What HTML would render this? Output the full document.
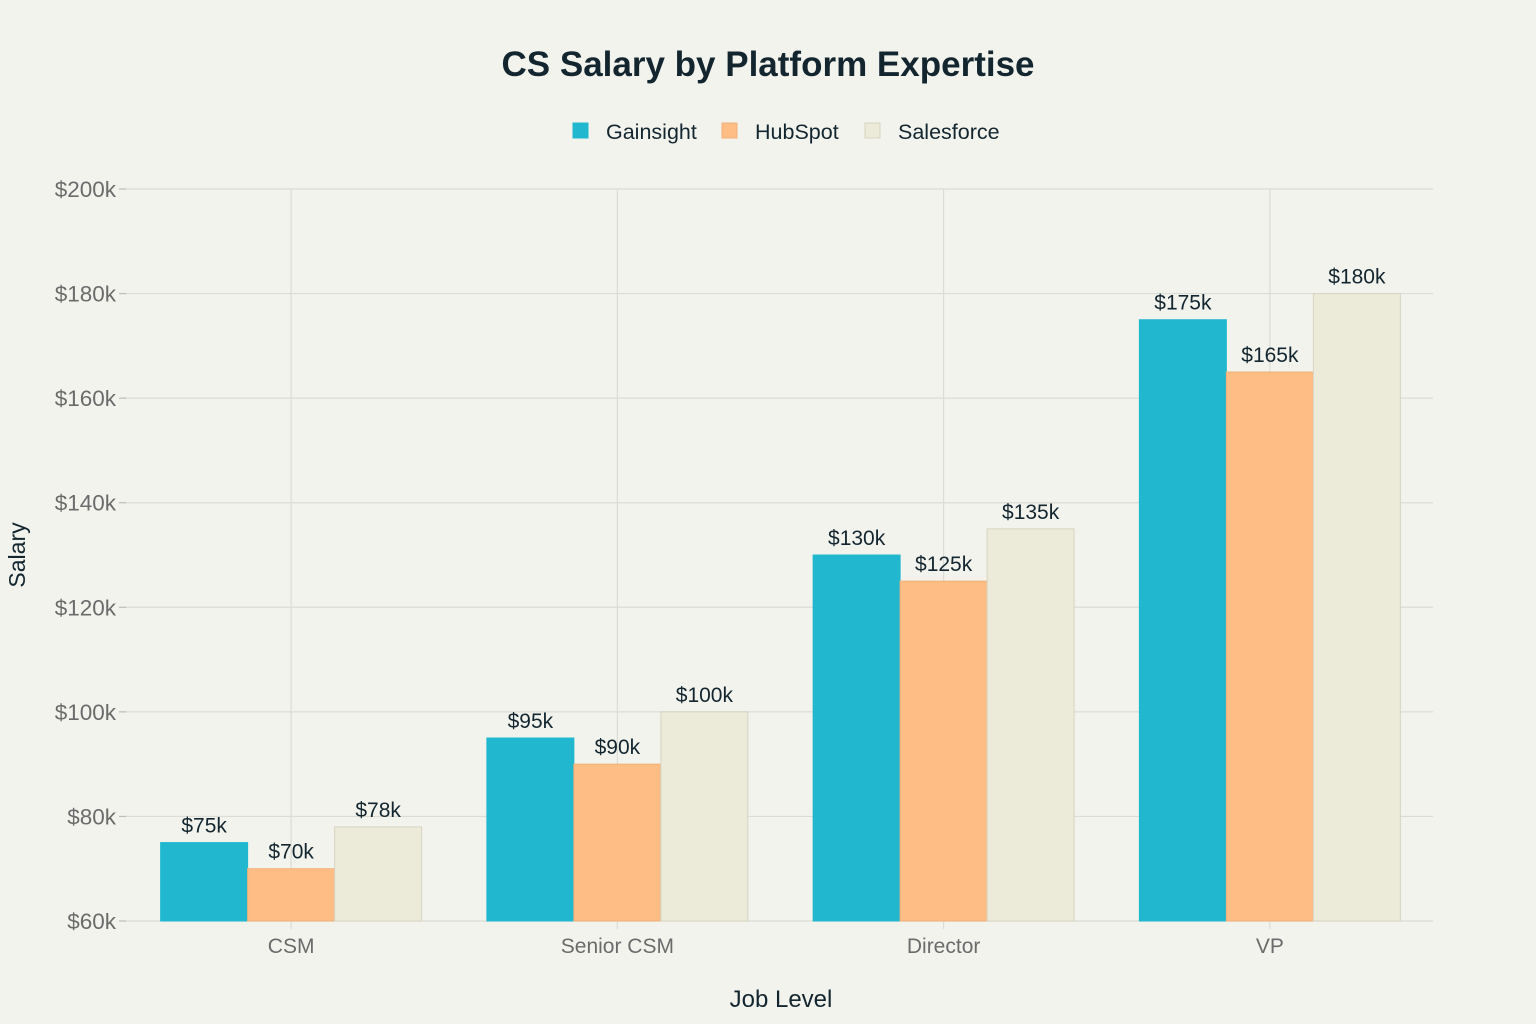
<!DOCTYPE html>
<html><head><meta charset="utf-8"><style>
html,body{margin:0;padding:0;background:#f3f3ee;}
svg{display:block;font-family:"Liberation Sans",sans-serif;}
</style></head><body>
<svg id="chart" width="1536" height="1024" viewBox="0 0 1536 1024">
<rect width="1536" height="1024" fill="#f3f3ee"/>
<text x="768" y="76" text-anchor="middle" font-size="35" font-weight="bold" fill="#13262f">CS Salary by Platform Expertise</text>
<g id="legend"></g>
<g id="grid"></g>
<g id="bars"></g>
<g id="axes"></g>
<text x="781" y="1007" text-anchor="middle" font-size="24" fill="#13262f">Job Level</text>
<text transform="translate(25,555) rotate(-90)" text-anchor="middle" font-size="23" fill="#13262f">Salary</text>
</svg>
<script>
const categories = ["CSM","Senior CSM","Director","VP"];
const seriesNames = ["Gainsight","HubSpot","Salesforce"];
const gainsight = [75,95,130,175];
const hubspot = [70,90,125,165];
const salesforce = [78,100,135,180];
const yTicks = [60,80,100,120,140,160,180,200];
const colors = ["#21b8cf","#fdbd84","#ecead8"];
const strokes = ["#21b8cf","#f3b078","#d6d4c0"];

const NS="http://www.w3.org/2000/svg";
const plotL=128, plotR=1433, yTop=189, yBot=921, yMin=60, yMax=200;
const y=v=>yBot-(v-yMin)/(yMax-yMin)*(yBot-yTop);
const bandW=(plotR-plotL)/categories.length;
const xc=i=>plotL+bandW*(i+0.5);
function mk(tag,attrs,parent,txt){const e=document.createElementNS(NS,tag);for(const k in attrs)e.setAttribute(k,attrs[k]);if(txt!==undefined)e.textContent=txt;parent.appendChild(e);return e;}
const grid=document.getElementById('grid'),axes=document.getElementById('axes'),bars=document.getElementById('bars'),legend=document.getElementById('legend');

yTicks.forEach(t=>{
  const l=mk('line',{x1:plotL-3,x2:plotR,y1:y(t),y2:y(t),stroke:'#dcdcd6','stroke-width':1.2},grid);
  
  
  const tk=mk('line',{x1:119,x2:126,y1:y(t),y2:y(t),stroke:'#bbb','stroke-width':1.2},axes);
  
  
  const tx=mk('text',{x:116,y:y(t)+8,'text-anchor':'end','font-size':22.5,fill:'#6b6b6b'},axes,'$'+t+'k');
  
  
});
categories.forEach((c,i)=>{
  const l=mk('line',{x1:xc(i),x2:xc(i),y1:yTop,y2:yBot+8,stroke:'#dcdcd6','stroke-width':1.2},grid);
  
  
  const tx=mk('text',{x:xc(i),y:953,'text-anchor':'middle','font-size':21,fill:'#6b6b6b'},axes,c);
  
  
});
const series=[gainsight,hubspot,salesforce];
const groupW=bandW*0.8, bw=groupW/series.length;
series.forEach((vals,s)=>{
  vals.forEach((v,i)=>{
    const x0=xc(i)-groupW/2+s*bw;
    const r=mk('rect',{x:x0,y:y(v),width:bw,height:yBot-y(v),fill:colors[s],stroke:strokes[s],'stroke-width':1},bars);
    
    
    const t=mk('text',{x:x0+bw/2,y:y(v)-10,'text-anchor':'middle','font-size':21,fill:'#13262f'},bars,'$'+v+'k');
    
    
  });
});
const legX=[573,722,865];
seriesNames.forEach((n,s)=>{
  const r=mk('rect',{x:legX[s],y:123,width:15,height:15,fill:colors[s],stroke:strokes[s]},legend);
  
  
  const t=mk('text',{x:legX[s]+33,y:139,'font-size':21.5,fill:'#13262f'},legend,n);
  
  
});
</script>
</body></html>
